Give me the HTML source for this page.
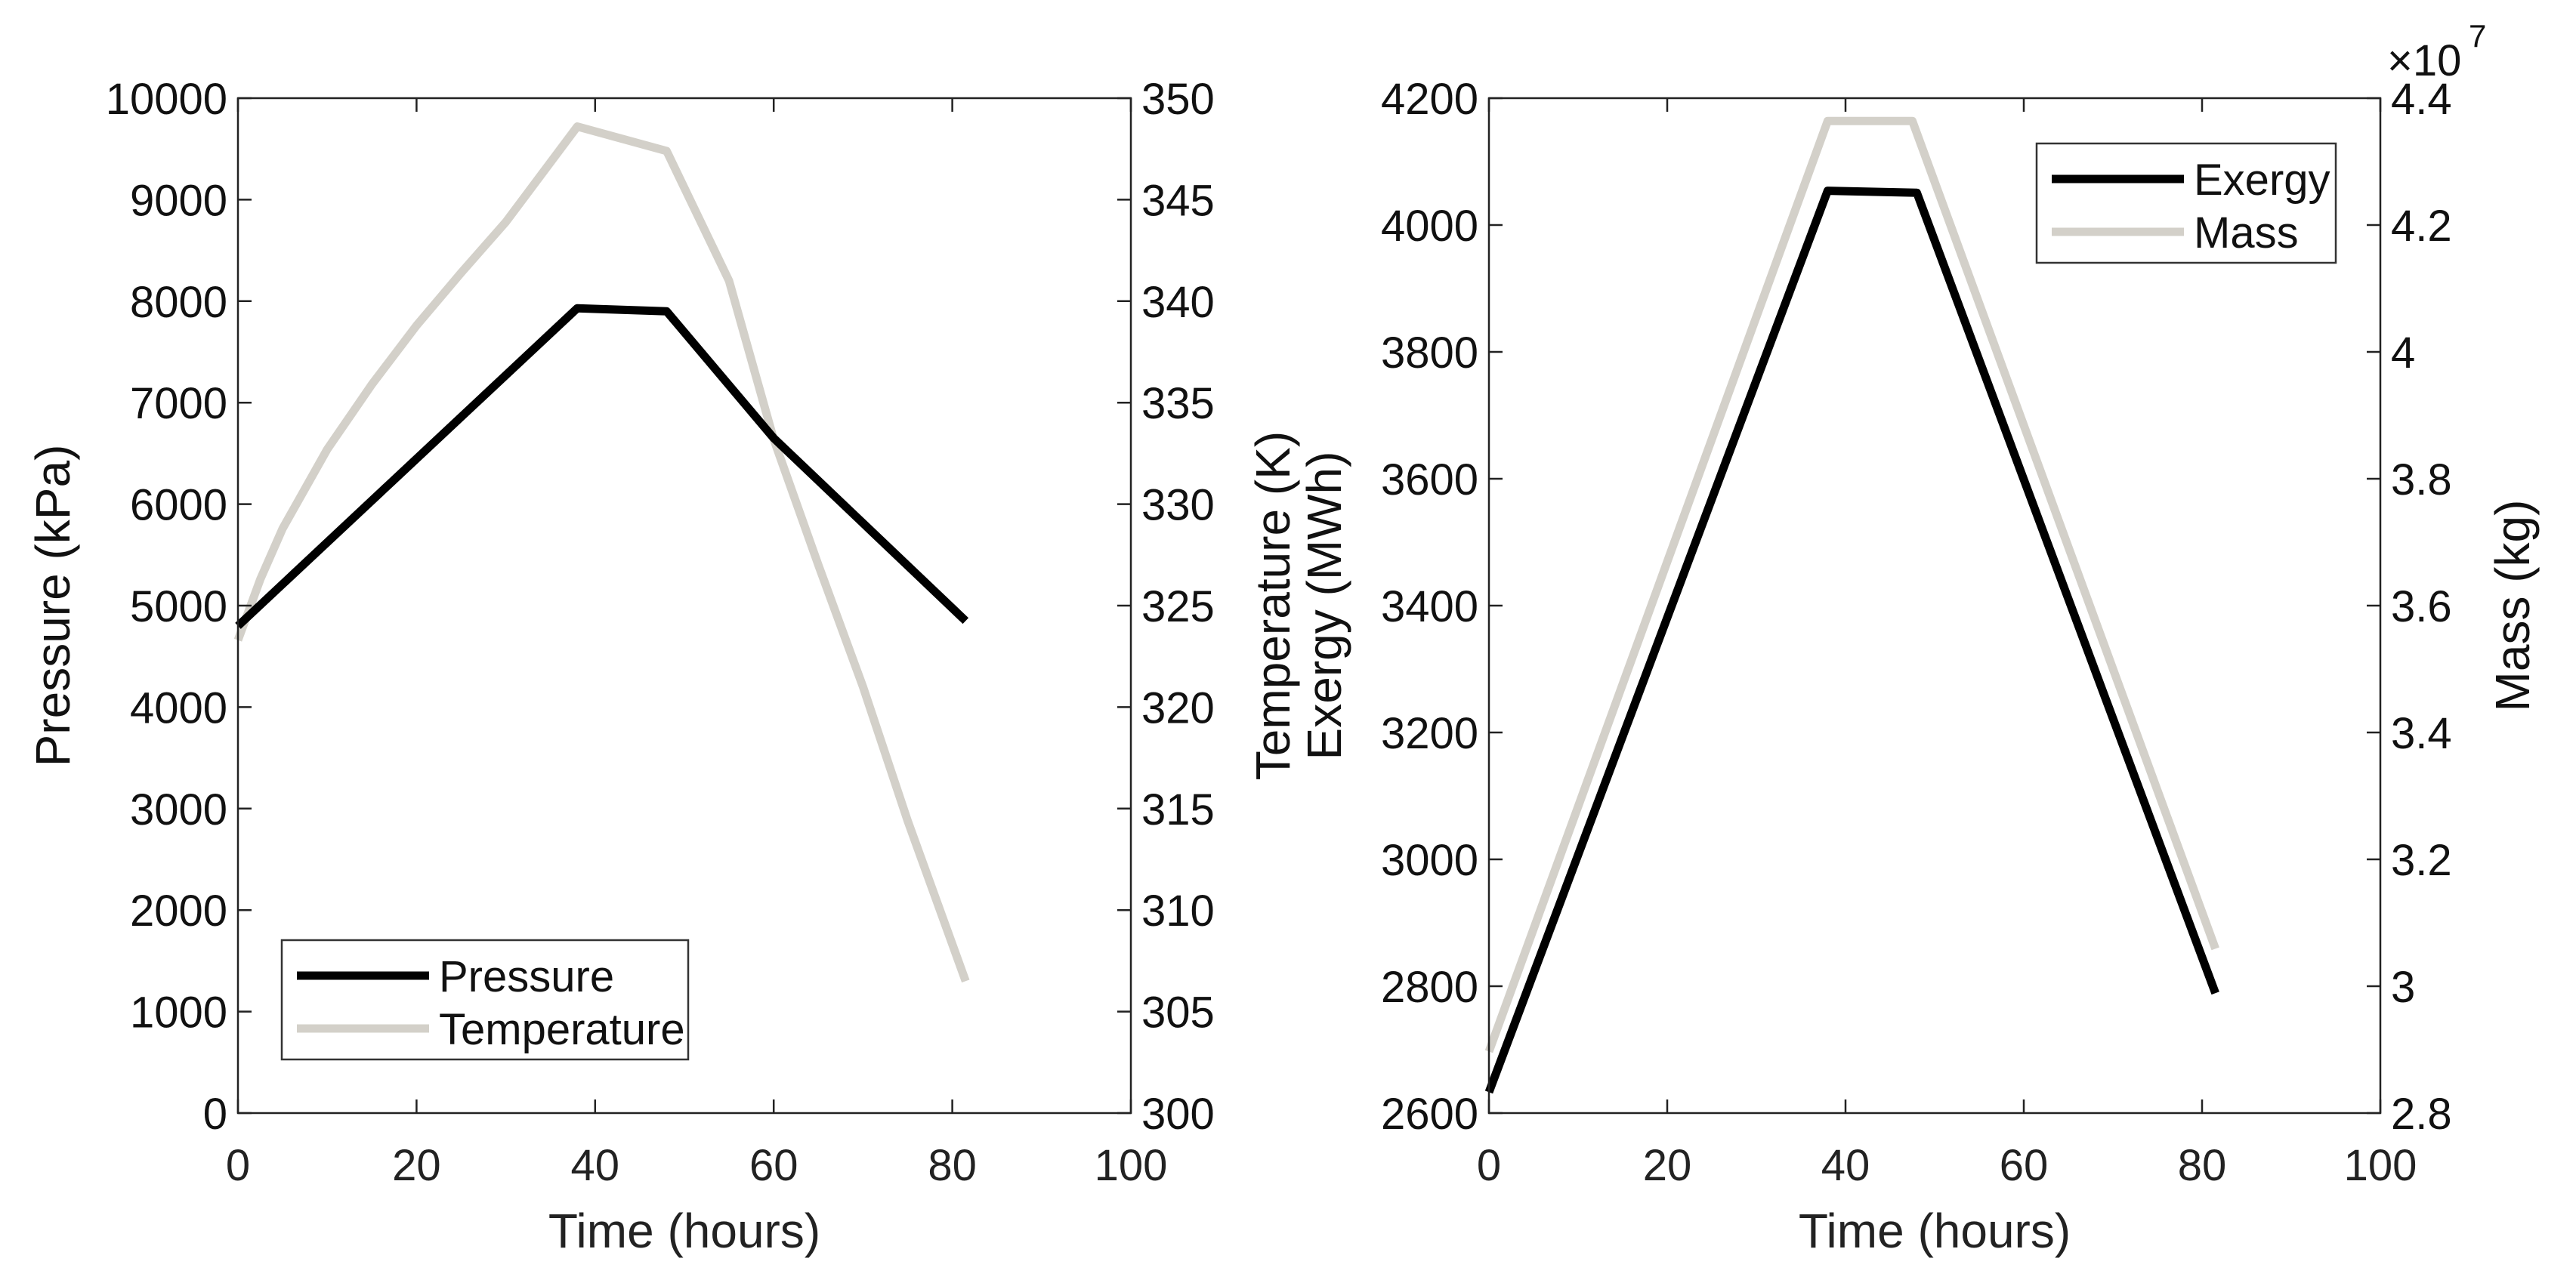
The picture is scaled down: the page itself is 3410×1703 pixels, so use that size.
<!DOCTYPE html>
<html><head><meta charset="utf-8"><style>
html,body{margin:0;padding:0;background:#fff;}
svg{display:block;font-family:"Liberation Sans",Arial,sans-serif;}
</style></head><body>
<svg id="chart" width="3410" height="1703" viewBox="0 0 3410 1703" xmlns="http://www.w3.org/2000/svg">
<rect width="3410" height="1703" fill="#fff"/>
</svg>
<script>
// ---- data ----
const timeP = [0, 38, 48, 60, 81.5];
const pressure = [4800, 7930, 7900, 6650, 4850];
const timeT = [0, 2.5, 5, 10, 15, 20, 25, 30, 38, 48, 55, 60, 65, 70, 75, 81.5];
const temperature = [323.3, 326.3, 328.8, 332.7, 335.9, 338.8, 341.4, 343.9, 348.6, 347.4, 341, 333.2, 327, 321, 314.4, 306.5];
const timeE = [0, 38, 48, 81.5];
const exergy = [2633, 4054, 4051, 2789];
const timeM = [0, 38, 47.5, 81.5];
const mass = [2.897, 4.364, 4.364, 3.059];
const xTicks = [0, 20, 40, 60, 80, 100];
const pTicks = [0, 1000, 2000, 3000, 4000, 5000, 6000, 7000, 8000, 9000, 10000];
const tTicks = [300, 305, 310, 315, 320, 325, 330, 335, 340, 345, 350];
const eTicks = [2600, 2800, 3000, 3200, 3400, 3600, 3800, 4000, 4200];
const mTicks = [2.8, 3, 3.2, 3.4, 3.6, 3.8, 4, 4.2, 4.4];
const mTickLabels = ["2.8", "3", "3.2", "3.4", "3.6", "3.8", "4", "4.2", "4.4"];

const svg = document.getElementById('chart');
const NS = 'http://www.w3.org/2000/svg';
function mk(tag, attrs, parent) {
  const e = document.createElementNS(NS, tag);
  for (const k in attrs) e.setAttribute(k, attrs[k]);
  (parent || svg).appendChild(e);
  return e;
}
const TOP = 130, BOT = 1474;
const GRAY = '#d3d0c9';
const FS = 58, TFS = 64;
function lin(d0, d1, r0, r1) { return v => r0 + (v - d0) / (d1 - d0) * (r1 - r0); }

function panel(name) {
  const g = mk('g', {});
  
  
  return g;
}
function ticksY(g, scale, ticks, labels, x, side) {
  ticks.forEach((t, i) => {
    const y = scale(t);
    const tk = mk('line', {x1: x, x2: x + (side === 'left' ? 18 : -18), y1: y, y2: y, stroke: '#222', 'stroke-width': 2.5}, g);
    
    
    const tx = mk('text', {x: side === 'left' ? x - 14 : x + 14, y: y + 21, 'font-size': FS, fill: '#111', 'text-anchor': side === 'left' ? 'end' : 'start'}, g);
    tx.textContent = labels[i];
    
    
  });
}
function ticksX(g, scale) {
  xTicks.forEach(t => {
    const x = scale(t);
    mk('line', {x1: x, x2: x, y1: BOT, y2: BOT - 18, stroke: '#222', 'stroke-width': 2.5}, g);
    mk('line', {x1: x, x2: x, y1: TOP, y2: TOP + 18, stroke: '#222', 'stroke-width': 2.5}, g);
    const tx = mk('text', {x: x, y: 1563, 'font-size': FS, fill: '#222', 'text-anchor': 'middle'}, g);
    tx.textContent = t;
    
    
  });
}
function series(g, xs, ys, sx, sy, color, name) {
  const pts = xs.map((x, i) => sx(x).toFixed(1) + ',' + sy(ys[i]).toFixed(1)).join(' ');
  const p = mk('polyline', {points: pts, fill: 'none', stroke: color, 'stroke-width': 11, 'stroke-linejoin': 'round'}, g);
  
  
}
function vlabel(g, x, y, text, name) {
  const t = mk('text', {x: x, y: y, 'font-size': TFS, fill: '#111', 'text-anchor': 'middle', transform: `rotate(-90 ${x} ${y})`}, g);
  t.textContent = text;
  
  
}
function legend(g, x, y, w, h, items) {
  const r = mk('rect', {x: x, y: y, width: w, height: h, fill: '#fff', stroke: '#333', 'stroke-width': 2.5}, g);
  
  
  items.forEach((it, i) => {
    const yy = y + 47 + i * 70;
    mk('line', {x1: x + 20, x2: x + 195, y1: yy, y2: yy, stroke: it[1], 'stroke-width': 11}, g);
    const t = mk('text', {x: x + 208, y: yy + 21, 'font-size': FS, fill: '#111'}, g);
    t.textContent = it[0];
    
    
  });
}

// ---- left panel ----
{
  const L = 315, R = 1497;
  const g = panel('pressure-temperature-chart');
  const sx = lin(0, 100, L, R);
  const sp = lin(0, 10000, BOT, TOP);
  const st = lin(300, 350, BOT, TOP);
  series(g, timeT, temperature, sx, st, GRAY, 'temperature-line');
  series(g, timeP, pressure, sx, sp, '#000', 'pressure-line');
  mk('rect', {x: L, y: TOP, width: R - L, height: BOT - TOP, fill: 'none', stroke: '#222', 'stroke-width': 2.5}, g);
  ticksX(g, sx);
  ticksY(g, sp, pTicks, pTicks.map(String), L, 'left');
  ticksY(g, st, tTicks, tTicks.map(String), R, 'right');
  vlabel(g, 92, 802, 'Pressure (kPa)', 'y-axis-title-pressure');
  vlabel(g, 1707, 802, 'Temperature (K)', 'y-axis-title-temperature');
  const xt = mk('text', {x: 906, y: 1652, 'font-size': TFS, fill: '#222', 'text-anchor': 'middle'}, g);
  xt.textContent = 'Time (hours)';
  
  
  legend(g, 373, 1245, 538, 158, [['Pressure', '#000'], ['Temperature', GRAY]]);
}
// ---- right panel ----
{
  const L = 1971, R = 3151;
  const g = panel('exergy-mass-chart');
  const sx = lin(0, 100, L, R);
  const se = lin(2600, 4200, BOT, TOP);
  const sm = lin(2.8, 4.4, BOT, TOP);
  series(g, timeM, mass, sx, sm, GRAY, 'mass-line');
  series(g, timeE, exergy, sx, se, '#000', 'exergy-line');
  mk('rect', {x: L, y: TOP, width: R - L, height: BOT - TOP, fill: 'none', stroke: '#222', 'stroke-width': 2.5}, g);
  ticksX(g, sx);
  ticksY(g, se, eTicks, eTicks.map(String), L, 'left');
  ticksY(g, sm, mTicks, mTickLabels, R, 'right');
  vlabel(g, 1775, 802, 'Exergy (MWh)', 'y-axis-title-exergy');
  vlabel(g, 3348, 802, 'Mass (kg)', 'y-axis-title-mass');
  const ex = mk('text', {x: 3160, y: 100, 'font-size': FS, fill: '#111'}, g);
  ex.textContent = '×10';
  
  
  const ex2 = mk('text', {x: 3268, y: 62, 'font-size': 42, fill: '#111'}, g);
  ex2.textContent = '7';
  
  
  const xt = mk('text', {x: 2561, y: 1652, 'font-size': TFS, fill: '#222', 'text-anchor': 'middle'}, g);
  xt.textContent = 'Time (hours)';
  
  
  legend(g, 2696, 190, 396, 158, [['Exergy', '#000'], ['Mass', GRAY]]);
}
</script>
</body></html>
